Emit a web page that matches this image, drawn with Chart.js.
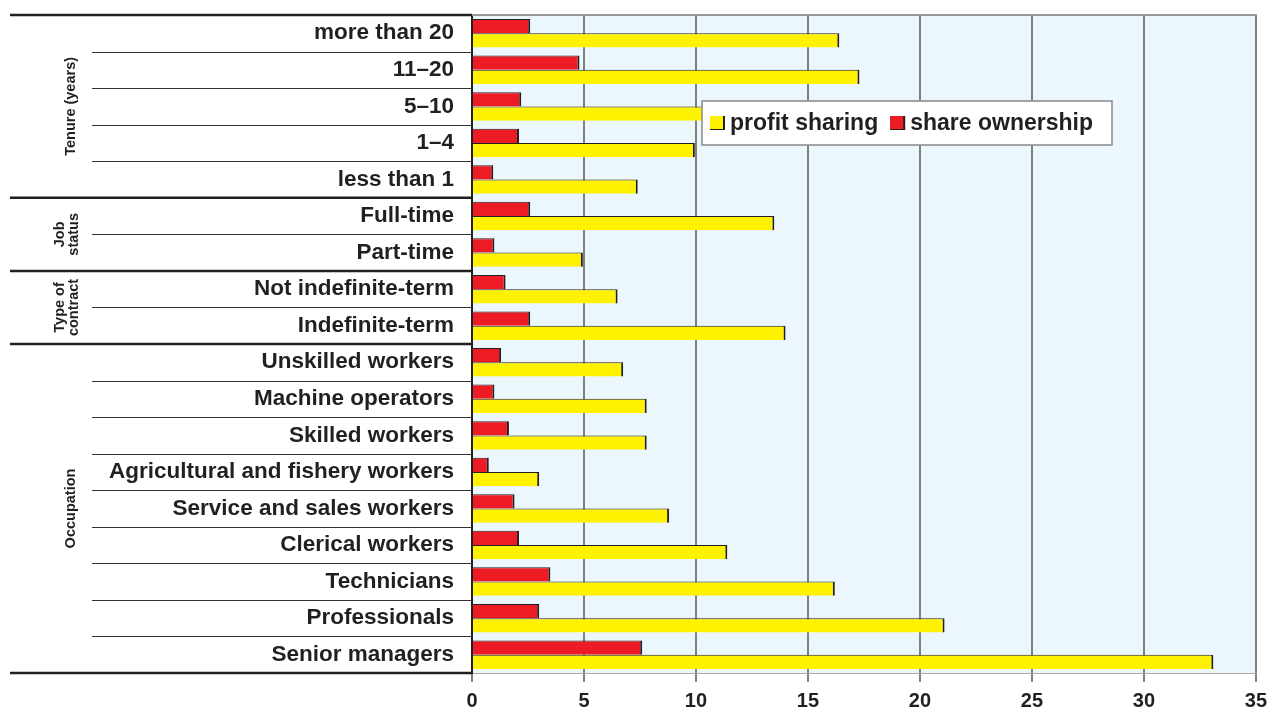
<!DOCTYPE html>
<html>
<head>
<meta charset="utf-8">
<script src="https://cdn.jsdelivr.net/npm/chart.js@4.4.1/dist/chart.umd.min.js"></script>
<style>
  html, body { margin: 0; padding: 0; background: #ffffff; }
  #wrap { width: 1274px; height: 713px; position: relative; }
</style>
</head>
<body>
<div id="wrap"><canvas id="c" width="1274" height="713"></canvas></div>
<script>
// ---- data (top to bottom) ----
const categories = [
  "more than 20", "11\u201320", "5\u201310", "1\u20134", "less than 1",
  "Full-time", "Part-time",
  "Not indefinite-term", "Indefinite-term",
  "Unskilled workers", "Machine operators", "Skilled workers",
  "Agricultural and fishery workers", "Service and sales workers",
  "Clerical workers", "Technicians", "Professionals", "Senior managers"
];
const shareOwnership = [2.6, 4.8, 2.2, 2.1, 0.95, 2.6, 1.0, 1.5, 2.6, 1.3, 1.0, 1.65, 0.75, 1.9, 2.1, 3.5, 3.0, 7.6];
const profitSharing  = [16.4, 17.3, 11.0, 9.95, 7.4, 13.5, 4.95, 6.5, 14.0, 6.75, 7.8, 7.8, 3.0, 8.8, 11.4, 16.2, 21.1, 33.1];
const groupNames = [["Tenure (years)"], ["Job", "status"], ["Type of", "contract"], ["Occupation"]];
const groupSizes = [5, 2, 2, 9];
const xTicks = [0, 5, 10, 15, 20, 25, 30, 35];
const seriesNames = ["share ownership", "profit sharing"];

const RED = "#ED1C24", YELLOW = "#FFF200", DARK = "#231F20";

const panelPlugin = {
  id: "panel",
  beforeDraw(chart) {
    const { ctx, chartArea: a } = chart;
    ctx.save();
    ctx.fillStyle = "#EBF6FD";
    ctx.fillRect(a.left, a.top, a.right - a.left, a.bottom - a.top);
    ctx.restore();
  },
  afterDatasetsDraw(chart) {
    const { ctx, chartArea: a } = chart;
    const ys = chart.scales.y;
    const n = categories.length;
    const step = (ys.bottom - ys.top) / n;
    const boundary = (i) => ys.getPixelForValue(i) - step / 2;
    ctx.save();
    // top frame line
    ctx.strokeStyle = "#9a9a9a";
    ctx.lineWidth = 2;
    ctx.beginPath();
    ctx.moveTo(a.left, a.top);
    ctx.lineTo(a.right + 1, a.top);
    ctx.stroke();
    // group boundaries set
    const groupStarts = new Set();
    let acc = 0;
    groupSizes.forEach(s => { groupStarts.add(acc); acc += s; });
    groupStarts.add(acc);
    // thin lines
    ctx.strokeStyle = "#333333";
    ctx.lineWidth = 1;
    for (let i = 1; i < n; i++) {
      if (groupStarts.has(i)) continue;
      const y = Math.round(boundary(i)) + 0.5;
      ctx.beginPath();
      ctx.moveTo(92, y);
      ctx.lineTo(a.left, y);
      ctx.stroke();
    }
    // thick lines
    ctx.strokeStyle = "#231F20";
    ctx.lineWidth = 2.5;
    groupStarts.forEach(i => {
      const y = i === n ? a.bottom : boundary(i);
      ctx.beginPath();
      ctx.moveTo(10, y);
      ctx.lineTo(a.left, y);
      ctx.stroke();
    });
    // group labels
    ctx.fillStyle = DARK;
    ctx.font = "bold 14.5px 'Liberation Sans', Arial, sans-serif";
    ctx.textAlign = "center";
    ctx.textBaseline = "middle";
    acc = 0;
    groupSizes.forEach((s, gi) => {
      const y0 = boundary(acc);
      const y1 = boundary(acc + s);
      const cy = (y0 + y1) / 2;
      const lines = groupNames[gi];
      const lh = 14;
      ctx.save();
      ctx.translate(lines.length > 1 ? 67 : 71, cy);
      ctx.rotate(-Math.PI / 2);
      lines.forEach((t, li) => {
        const off = (li - (lines.length - 1) / 2) * lh;
        ctx.fillText(t, 0, off);
      });
      ctx.restore();
      acc += s;
    });
    // legend box
    const lx = 702, ly = 101, lw = 410, lh2 = 44;
    ctx.fillStyle = "#ffffff";
    ctx.fillRect(lx, ly, lw, lh2);
    ctx.strokeStyle = "#888888";
    ctx.lineWidth = 1.5;
    ctx.strokeRect(lx, ly, lw, lh2);
    const items = chart.data.datasets.slice().reverse();
    ctx.font = "bold 23px 'Liberation Sans', Arial, sans-serif";
    ctx.textAlign = "left";
    ctx.textBaseline = "middle";
    let x = 710;
    const cyL = ly + lh2 / 2;
    items.forEach(ds => {
      ctx.fillStyle = DARK;
      ctx.fillRect(x, cyL - 7, 15, 14);
      ctx.fillStyle = ds.backgroundColor;
      ctx.fillRect(x, cyL - 7, 13, 13);
      ctx.fillStyle = DARK;
      ctx.fillText(ds.label, x + 20, cyL + 1);
      x += 20 + ctx.measureText(ds.label).width + 12;
    });
    ctx.restore();
  }
};

new Chart(document.getElementById("c"), {
  type: "bar",
  data: {
    labels: categories,
    datasets: [
      {
        label: seriesNames[0],
        data: shareOwnership,
        backgroundColor: RED,
        borderColor: DARK,
        borderWidth: { top: 1, right: 2, bottom: 0, left: 0 },
        borderSkipped: false,
        categoryPercentage: 0.78,
        barPercentage: 1.0
      },
      {
        label: seriesNames[1],
        data: profitSharing,
        backgroundColor: YELLOW,
        borderColor: DARK,
        borderWidth: { top: 1, right: 2, bottom: 0, left: 0 },
        borderSkipped: false,
        categoryPercentage: 0.78,
        barPercentage: 1.0
      }
    ]
  },
  options: {
    indexAxis: "y",
    responsive: false,
    animation: false,
    devicePixelRatio: 1,
    layout: { padding: { top: 15, right: 18, bottom: 0, left: 0 } },
    plugins: { legend: { display: false }, tooltip: { enabled: false } },
    scales: {
      x: {
        min: 0, max: 35,
        afterBuildTicks(scale) { scale.ticks = xTicks.map(v => ({ value: v })); },
        afterFit(scale) { scale.height = 40; },
        grid: { color: "#808080", lineWidth: 2, tickLength: 9, drawTicks: true, tickColor: "#808080" },
        border: { display: true, color: "#aaaaaa", width: 1 },
        ticks: {
          color: DARK,
          padding: 7,
          font: { family: "'Liberation Sans', Arial, sans-serif", size: 20, weight: "bold" }
        }
      },
      y: {
        afterFit(scale) { scale.width = 472; scale.paddingTop = 0; scale.paddingBottom = 0; },
        grid: { display: false, drawTicks: false },
        border: { display: true, color: DARK, width: 2 },
        ticks: {
          color: DARK,
          padding: 18,
          autoSkip: false,
          font: { family: "'Liberation Sans', Arial, sans-serif", size: 22.5, weight: "bold" }
        }
      }
    }
  },
  plugins: [panelPlugin]
});
</script>
</body>
</html>
